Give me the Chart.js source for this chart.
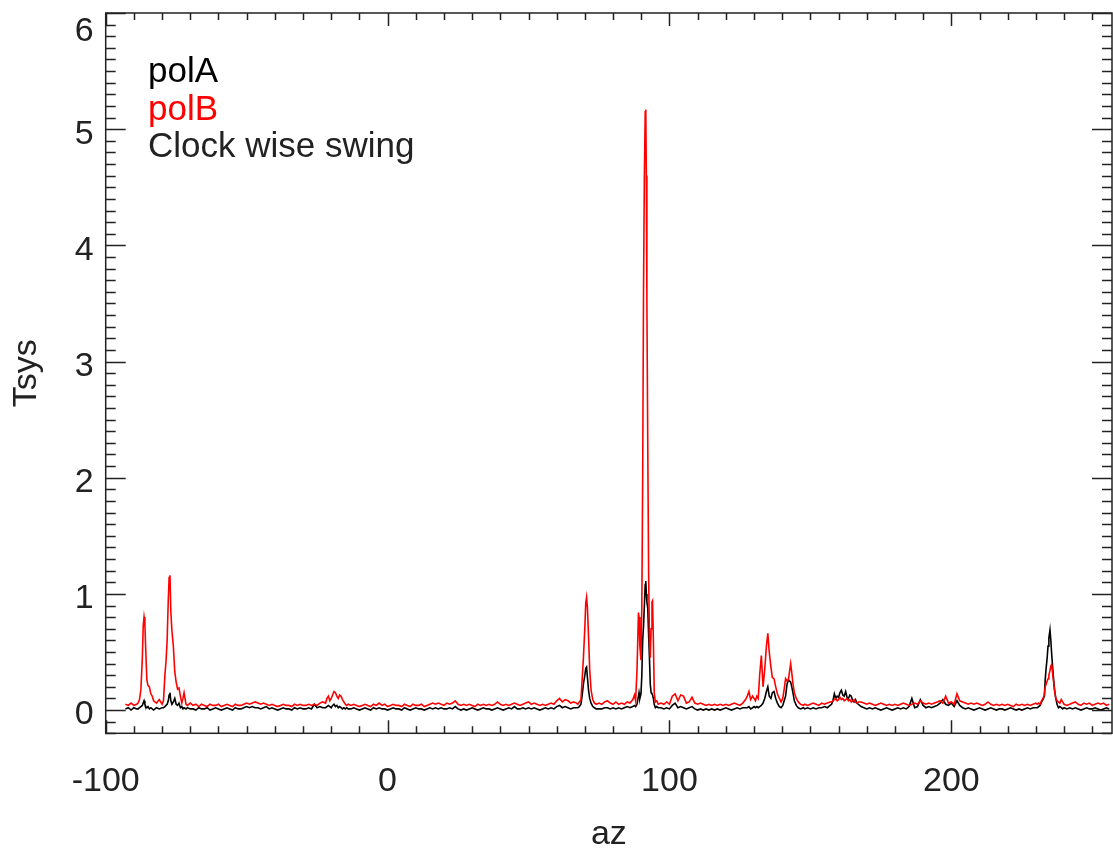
<!DOCTYPE html>
<html>
<head>
<meta charset="utf-8">
<script src="https://cdn.jsdelivr.net/npm/chart.js@4.4.1/dist/chart.umd.min.js"></script>
<style>
  html, body { margin: 0; padding: 0; background: #fff; }
  canvas { display: block; }
</style>
</head>
<body>
<canvas id="tsys" width="1113" height="850"></canvas>
<script>
// azimuth samples (deg), shared by both polarisations
const azimuth = [
  -93, -92, -91, -90, -89,
  -88.5, -88, -87.5, -87, -86.7, -86.4, -86.1, -85.8, -85.4, -85, -84.5, -84, -83.5, -83, -82, -81, -80,
  -79.5, -79, -78.6, -78.2, -77.8, -77.5, -77.2, -76.9, -76.5, -76, -75.5, -75, -74.5, -74, -73.5, -73, -72.6, -72.2, -71.5, -71, -70,
  -69, -68, -67, -66, -65, -64, -63, -62, -61, -60,
  -59, -58, -57, -56, -55, -54, -53, -52, -51, -50,
  -49, -48, -47, -46, -45, -44, -43, -42, -41, -40,
  -39, -38, -37, -36, -35, -34, -33, -32, -31, -30,
  -29, -28, -27, -26, -25, -24, -23,
  -22, -21.5, -21, -20.5, -20, -19.5, -19, -18.5, -18, -17.5, -17, -16.5, -16, -15.5, -15, -14.5, -14,
  -13, -12, -11, -10, -9, -8, -7, -6, -5, -4,
  -3, -2, -1, 0, 1, 2, 3, 4, 5, 6,
  7, 8, 9, 10, 11, 12, 13, 14, 15, 16,
  17, 18, 19, 20, 21, 22, 23, 24, 25, 26,
  27, 28, 29, 30, 31, 32, 33, 34, 35, 36,
  37, 38, 39, 40, 41, 42, 43, 44, 45, 46,
  47, 48, 49, 50, 51, 52, 53, 54, 55, 56,
  57, 58, 59, 60, 61, 62, 63, 64, 65, 66,
  67,
  67.5, 68, 68.6, 69, 69.5, 70, 70.3, 70.6, 70.9, 71.3, 71.7, 72.2, 72.8, 73.4, 74, 75,
  76, 77, 78, 79, 80, 81, 82, 83, 84, 85, 86, 87,
  87.6, 88, 88.5, 89, 89.2, 89.5, 89.9, 90.2, 90.5, 90.8, 91.1, 91.4, 91.6, 91.8, 92, 92.3, 92.6, 92.9, 93.2, 93.5, 93.8, 94, 94.3, 94.6, 95, 95.5, 96,
  97, 98, 99, 100, 101, 102, 103, 104, 105, 106,
  107, 108, 109, 110, 111, 112, 113, 114, 115, 116,
  117, 118, 119, 120, 121, 122, 123, 124, 125, 126,
  127,
  127.6, 128.2, 128.8, 129.5, 130, 130.5, 131, 131.5, 132, 132.6,
  133.2, 133.8, 134.4, 134.9, 135.4, 136, 136.5, 137.1, 137.7, 138.3,
  139, 139.6, 140.2, 140.7, 141.2, 141.7, 142.2, 142.6, 143, 143.4,
  143.8, 144.3, 145, 145.7, 146.5, 147.5,
  148, 149, 150, 151, 152, 153, 154, 155, 156, 157,
  157.5, 158, 158.5, 159, 159.5, 160, 160.5, 161, 161.5, 162,
  162.5, 163, 163.5, 164, 164.5, 165, 165.5, 166, 166.5, 167,
  168, 169, 170, 171, 172, 173, 174, 175, 176, 177,
  178, 179, 180, 181, 182, 183, 184, 185, 186, 187,
  188, 189, 190, 191, 192, 193, 194, 195, 196, 197,
  198, 199, 200, 201, 202, 203, 204, 205, 206, 207,
  208, 209, 210, 211, 212, 213, 214, 215, 216, 217,
  218, 219, 220, 221, 222, 223, 224, 225, 226, 227,
  228, 229, 230,
  230.5, 231, 231.5, 232, 232.5, 233, 233.3, 233.6, 234, 234.3, 234.6, 235,
  235.3, 235.6, 236, 236.3, 236.6, 237, 237.5, 238, 238.5, 239, 239.5, 240,
  241, 242, 243, 244, 245, 246, 247, 248, 249, 250, 251, 252, 253, 254, 255, 256
];

const polA = [
  0.01, 0.02, 0.00, 0.02, 0.01,
  0.01, 0.02, 0.03, 0.04, 0.06, 0.08, 0.05, 0.03, 0.02, 0.03, 0.01, 0.02, 0.01, 0.00, 0.02, 0.01, 0.02,
  0.02, 0.03, 0.04, 0.05, 0.08, 0.13, 0.15, 0.08, 0.05, 0.07, 0.10, 0.05, 0.04, 0.06, 0.02, 0.03, 0.01, 0.02, 0.01, 0.02, 0.01,
  0.01, 0.00, 0.02, 0.01, 0.01, 0.02, 0.00, 0.01, 0.02, 0.01,
  0.00, 0.01, 0.02, 0.01, 0.00, 0.02, 0.01, 0.01, 0.02, 0.03,
  0.02, 0.03, 0.02, 0.02, 0.01, 0.02, 0.03, 0.01, 0.02, 0.01,
  0.00, 0.01, 0.02, 0.01, 0.01, 0.00, 0.02, 0.01, 0.02, 0.01,
  0.01, 0.02, 0.01, 0.05, 0.02, 0.03, 0.02,
  0.02, 0.03, 0.04, 0.03, 0.02, 0.04, 0.05, 0.03, 0.04, 0.02, 0.03, 0.02, 0.01, 0.02, 0.01, 0.02, 0.01,
  0.01, 0.02, 0.01, 0.00, 0.01, 0.02, 0.01, 0.00, 0.02, 0.01,
  0.02, 0.01, 0.01, 0.00, 0.01, 0.02, 0.01, 0.01, 0.00, 0.02,
  0.01, 0.00, 0.01, 0.02, 0.01, 0.01, 0.00, 0.01, 0.02, 0.01,
  0.02, 0.01, 0.02, 0.01, 0.01, 0.02, 0.01, 0.03, 0.01, 0.00,
  0.01, 0.00, 0.01, 0.02, 0.01, 0.00, 0.01, 0.02, 0.01, 0.01,
  0.00, 0.01, 0.02, 0.01, 0.00, 0.01, 0.02, 0.01, 0.03, 0.01,
  0.01, 0.02, 0.01, 0.02, 0.01, 0.02, 0.01, 0.00, 0.01, 0.02,
  0.01, 0.02, 0.01, 0.03, 0.04, 0.02, 0.03, 0.02, 0.01, 0.02,
  0.02,
  0.02, 0.03, 0.05, 0.12, 0.23, 0.30, 0.36, 0.37, 0.28, 0.17, 0.10, 0.06, 0.03, 0.02, 0.01, 0.01,
  0.01, 0.02, 0.02, 0.01, 0.02, 0.01, 0.02, 0.01, 0.02, 0.03, 0.02, 0.03,
  0.04, 0.03, 0.05, 0.12, 0.15, 0.10, 0.14, 0.30, 0.60, 0.72, 0.90, 1.08, 1.11, 1.00, 0.93, 0.88, 0.65, 0.45, 0.22, 0.15, 0.14, 0.13, 0.10, 0.05, 0.02, 0.03, 0.02,
  0.02, 0.01, 0.02, 0.01, 0.04, 0.06, 0.02, 0.03, 0.02, 0.01,
  0.02, 0.03, 0.01, 0.00, 0.01, 0.00, 0.01, 0.00, 0.01, 0.00,
  0.01, 0.00, 0.01, 0.02, 0.01, 0.00, 0.01, 0.02, 0.01, 0.02,
  0.02,
  0.02, 0.03, 0.01, 0.02, 0.03, 0.02, 0.03, 0.02, 0.03, 0.04,
  0.06, 0.10, 0.16, 0.20, 0.12, 0.10, 0.15, 0.16, 0.10, 0.06,
  0.03, 0.02, 0.04, 0.08, 0.12, 0.22, 0.26, 0.25, 0.24, 0.20,
  0.15, 0.08, 0.04, 0.02, 0.01, 0.02,
  0.01, 0.02, 0.01, 0.02, 0.01, 0.02, 0.02, 0.03, 0.02, 0.04,
  0.05, 0.08, 0.14, 0.10, 0.12, 0.11, 0.15, 0.17, 0.13, 0.12,
  0.16, 0.11, 0.10, 0.13, 0.12, 0.08, 0.07, 0.09, 0.06, 0.05,
  0.03, 0.02, 0.01, 0.02, 0.01, 0.02, 0.01, 0.00, 0.01, 0.02,
  0.01, 0.00, 0.01, 0.02, 0.01, 0.02, 0.01, 0.03, 0.10, 0.02,
  0.03, 0.09, 0.04, 0.02, 0.03, 0.02, 0.03, 0.04, 0.06, 0.09,
  0.05, 0.04, 0.06, 0.03, 0.08, 0.04, 0.02, 0.01, 0.02, 0.01,
  0.00, 0.01, 0.02, 0.01, 0.00, 0.01, 0.02, 0.01, 0.00, 0.01,
  0.01, 0.00, 0.01, 0.02, 0.01, 0.00, 0.01, 0.00, 0.01, 0.02,
  0.01, 0.02, 0.02,
  0.02, 0.03, 0.04, 0.07, 0.09, 0.12, 0.26, 0.35, 0.45, 0.55, 0.62, 0.69,
  0.60, 0.48, 0.35, 0.26, 0.18, 0.11, 0.05, 0.02, 0.03, 0.02, 0.01, 0.02,
  0.01, 0.02, 0.01, 0.02, 0.01, 0.00, 0.01, 0.02, 0.01, 0.01, 0.02, 0.01, 0.00, 0.01, 0.02, 0.01
];

const polB = [
  0.05, 0.04, 0.06, 0.04, 0.05,
  0.06, 0.09, 0.18, 0.45, 0.72, 0.80, 0.74, 0.52, 0.26, 0.21, 0.20, 0.14, 0.12, 0.08, 0.06, 0.09, 0.05,
  0.08, 0.30, 0.42, 0.60, 0.95, 1.14, 1.16, 0.85, 0.68, 0.55, 0.33, 0.24, 0.18, 0.19, 0.12, 0.06, 0.10, 0.15, 0.05, 0.04, 0.06,
  0.04, 0.05, 0.03, 0.05, 0.04, 0.03, 0.05, 0.04, 0.04, 0.05,
  0.03, 0.04, 0.05, 0.04, 0.03, 0.05, 0.04, 0.04, 0.05, 0.06,
  0.05, 0.06, 0.07, 0.06, 0.05, 0.06, 0.05, 0.04, 0.05, 0.04,
  0.03, 0.04, 0.05, 0.04, 0.04, 0.03, 0.05, 0.04, 0.05, 0.04,
  0.04, 0.05, 0.04, 0.05, 0.04, 0.06, 0.07,
  0.06, 0.10, 0.12, 0.08, 0.10, 0.13, 0.16, 0.15, 0.12, 0.10, 0.13, 0.12, 0.09, 0.07, 0.05, 0.04, 0.05,
  0.04, 0.05, 0.04, 0.03, 0.04, 0.05, 0.04, 0.03, 0.05, 0.04,
  0.06, 0.04, 0.05, 0.03, 0.04, 0.05, 0.04, 0.04, 0.03, 0.05,
  0.04, 0.03, 0.05, 0.04, 0.04, 0.05, 0.03, 0.04, 0.05, 0.06,
  0.05, 0.06, 0.05, 0.04, 0.06, 0.05, 0.06, 0.08, 0.05, 0.04,
  0.05, 0.04, 0.05, 0.04, 0.03, 0.05, 0.04, 0.05, 0.04, 0.05,
  0.04, 0.05, 0.07, 0.05, 0.04, 0.05, 0.04, 0.05, 0.06, 0.05,
  0.04, 0.05, 0.06, 0.07, 0.05, 0.06, 0.05, 0.04, 0.05, 0.04,
  0.05, 0.06, 0.05, 0.08, 0.10, 0.07, 0.09, 0.08, 0.06, 0.07,
  0.06,
  0.05, 0.07, 0.09, 0.25, 0.46, 0.72, 0.92, 0.97, 0.88, 0.63, 0.35, 0.17, 0.09, 0.06, 0.05, 0.06,
  0.05, 0.07, 0.08, 0.06, 0.05, 0.07, 0.05, 0.06, 0.05, 0.07, 0.06, 0.09,
  0.13, 0.08, 0.35, 0.84, 0.80, 0.55, 0.43, 0.90, 2.00, 3.60, 4.60, 5.15, 5.17, 4.60, 3.50, 2.30, 1.20, 0.60, 0.45, 0.70, 0.93, 0.94, 0.60, 0.15, 0.07, 0.08, 0.05,
  0.06, 0.05, 0.07, 0.05, 0.12, 0.14, 0.08, 0.13, 0.12, 0.06,
  0.07, 0.11, 0.06, 0.05, 0.06, 0.05, 0.04, 0.05, 0.04, 0.05,
  0.04, 0.05, 0.04, 0.05, 0.04, 0.05, 0.06, 0.05, 0.04, 0.06,
  0.09,
  0.12, 0.16, 0.09, 0.12, 0.10, 0.08, 0.12, 0.10, 0.30, 0.47,
  0.20, 0.35, 0.55, 0.66, 0.50, 0.37, 0.28, 0.27, 0.20, 0.14,
  0.10, 0.07, 0.10, 0.18, 0.27, 0.25, 0.26, 0.33, 0.40, 0.32,
  0.23, 0.15, 0.10, 0.07, 0.05, 0.04,
  0.05, 0.04, 0.05, 0.06, 0.05, 0.04, 0.06, 0.05, 0.06, 0.07,
  0.07, 0.08, 0.09, 0.10, 0.08, 0.09, 0.11, 0.09, 0.10, 0.08,
  0.09, 0.10, 0.08, 0.09, 0.07, 0.08, 0.09, 0.07, 0.06, 0.07,
  0.07, 0.06, 0.05, 0.06, 0.05, 0.04, 0.05, 0.06, 0.05, 0.04,
  0.05, 0.04, 0.05, 0.04, 0.05, 0.06, 0.05, 0.04, 0.05, 0.06,
  0.05, 0.08, 0.06, 0.05, 0.06, 0.05, 0.06, 0.07, 0.08, 0.06,
  0.12, 0.06, 0.07, 0.05, 0.14, 0.08, 0.07, 0.06, 0.05, 0.06,
  0.05, 0.06, 0.05, 0.04, 0.05, 0.07, 0.05, 0.04, 0.05, 0.04,
  0.05, 0.04, 0.05, 0.04, 0.03, 0.05, 0.04, 0.05, 0.04, 0.05,
  0.04, 0.05, 0.06,
  0.05, 0.06, 0.05, 0.08, 0.10, 0.13, 0.20, 0.22, 0.25, 0.27, 0.30, 0.34,
  0.38, 0.39, 0.30, 0.24, 0.17, 0.11, 0.08, 0.07, 0.06, 0.09, 0.07, 0.05,
  0.04, 0.05, 0.06, 0.07, 0.05, 0.04, 0.06, 0.05, 0.06, 0.04, 0.05, 0.06, 0.05, 0.06, 0.04, 0.05
];

const xTickLabels = [-100, 0, 100, 200];
const yTickLabels = [0, 1, 2, 3, 4, 5, 6];
const legendLines = [
  { text: 'polA', color: '#000000' },
  { text: 'polB', color: '#ff0000' },
  { text: 'Clock wise swing', color: '#222222' }
];

const FONT = "'Liberation Sans', Helvetica, Arial, sans-serif";
const INK = '#222';

function toPoints(ys) {
  return azimuth.map((az, i) => ({ x: az, y: ys[i] }));
}

// IDL style box: inward ticks on all four sides + in-plot legend text
const idlFrame = {
  id: 'idlFrame',
  afterDraw(chart) {
    const { ctx, chartArea: a, scales } = chart;
    const x = scales.x, y = scales.y;
    ctx.save();
    ctx.strokeStyle = INK;
    ctx.lineWidth = 1.5;
    ctx.strokeRect(a.left, a.top, a.right - a.left, a.bottom - a.top);
    ctx.beginPath();
    for (let v = -100; v <= 250; v += 10) {
      const px = Math.round(x.getPixelForValue(v)) + 0.5;
      const len = v % 100 === 0 ? 13 : 7;
      ctx.moveTo(px, a.bottom); ctx.lineTo(px, a.bottom - len);
      ctx.moveTo(px, a.top); ctx.lineTo(px, a.top + len);
    }
    for (let k = -2; k <= 60; k++) {
      const py = Math.round(y.getPixelForValue(k / 10)) + 0.5;
      const len = k % 10 === 0 ? 20 : 10;
      ctx.moveTo(a.left, py); ctx.lineTo(a.left + len, py);
      ctx.moveTo(a.right, py); ctx.lineTo(a.right - len, py);
    }
    ctx.stroke();

    ctx.font = '35px ' + FONT;
    ctx.textAlign = 'left';
    ctx.textBaseline = 'alphabetic';
    legendLines.forEach((l, i) => {
      ctx.fillStyle = l.color;
      ctx.fillText(l.text, 148, 82 + i * 37.5);
    });
    ctx.restore();
  }
};

new Chart(document.getElementById('tsys'), {
  type: 'line',
  data: {
    datasets: [{
      label: 'polA',
      data: toPoints(polA),
      borderColor: '#000000',
      borderWidth: 1.6,
      pointRadius: 0,
      tension: 0,
      order: 1
    }, {
      label: 'polB',
      data: toPoints(polB),
      borderColor: '#ff0000',
      borderWidth: 1.6,
      pointRadius: 0,
      tension: 0,
      order: 0
    }]
  },
  options: {
    responsive: false,
    animation: false,
    devicePixelRatio: 1,
    layout: { padding: { top: 13, right: 1, left: 0, bottom: 0 } },
    plugins: {
      legend: { display: false },
      tooltip: { enabled: false }
    },
    scales: {
      x: {
        type: 'linear',
        min: -100,
        max: 257,
        grid: { display: false, drawTicks: false },
        border: { display: false },
        ticks: {
          stepSize: 100,
          includeBounds: false,
          padding: 28,
          color: INK,
          maxRotation: 0,
          font: { family: FONT, size: 34 },
          callback: v => xTickLabels.includes(v) ? String(v) : ''
        },
        title: {
          display: true,
          text: 'az',
          color: INK,
          padding: 0,
          font: { family: FONT, size: 34, lineHeight: 0.9 }
        },
        afterFit(s) { s.height = 116.7; s.paddingLeft = 0; s.paddingRight = 0; }
      },
      y: {
        min: -0.2,
        max: 6,
        grid: { display: false, drawTicks: false },
        border: { display: false },
        ticks: {
          stepSize: 1,
          includeBounds: false,
          padding: 12,
          labelOffset: 5,
          color: INK,
          font: { family: FONT, size: 34, lineHeight: 0.8 },
          // top label sits a little lower, as in the original plot
          callback: v => !yTickLabels.includes(v) ? '' : (v === 6 ? ['', '6'] : String(v))
        },
        title: {
          display: true,
          text: 'Tsys',
          color: INK,
          padding: { top: 6, bottom: 0 },
          font: { family: FONT, size: 34 }
        },
        afterFit(s) { s.width = 105.7; s.paddingTop = 0; s.paddingBottom = 0; }
      }
    }
  },
  plugins: [idlFrame]
});
</script>
</body>
</html>
